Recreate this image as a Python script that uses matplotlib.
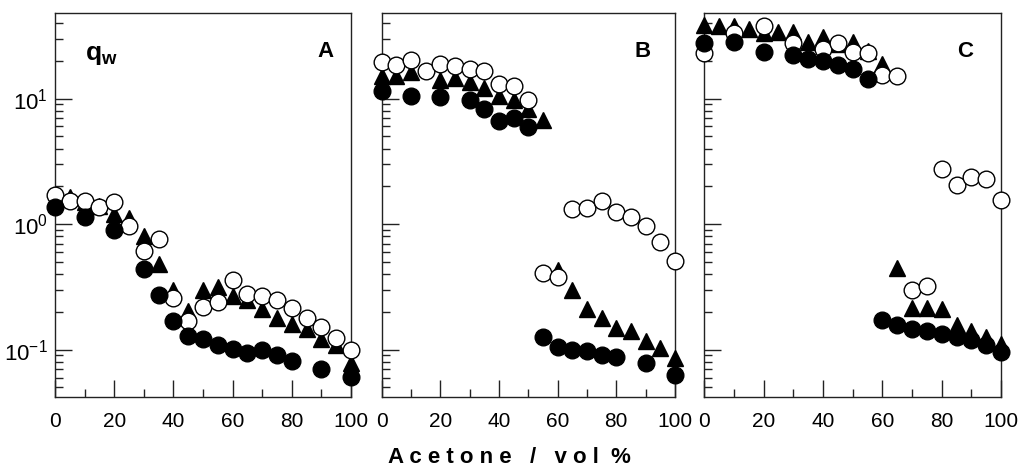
import numpy as np
import matplotlib
matplotlib.use('Agg')
import matplotlib.pyplot as plt
from matplotlib.ticker import LogLocator, MultipleLocator, NullFormatter

plt.rcParams['font.family'] = ['Liberation Sans', 'DejaVu Sans']
plt.rcParams['mathtext.fontset'] = 'custom'
plt.rcParams['mathtext.rm'] = 'Liberation Sans'
plt.rcParams['mathtext.bf'] = 'Liberation Sans:bold'

nan = np.nan
acetone = np.arange(0, 101, 5)

# panel A
a_open = [1.7, 1.52, 1.52, 1.37, 1.50, 0.96, 0.61, 0.76, 0.26, 0.17, 0.22,
          0.24, 0.36, 0.28, 0.27, 0.25, 0.215, 0.18, 0.151, 0.124, 0.10]
a_tri = [1.6, 1.63, 1.5, 1.4, 1.21, 1.12, 0.81, 0.48, 0.30, 0.205, 0.30,
         0.315, 0.27, 0.25, 0.21, 0.18, 0.16, 0.147, 0.122, 0.108, 0.079]
a_fill = [1.38, nan, 1.15, nan, 0.90, nan, 0.44, 0.275, 0.169, 0.129, 0.122,
          0.108, 0.101, 0.094, 0.10, 0.090, 0.081, nan, 0.070, nan, 0.061]

# panel B
b_open = [19.6, 18.4, 20.2, 16.5, 19.0, 18.2, 17.1, 16.6, 13.0, 12.5, 9.8,
          0.41, 0.38, 1.33, 1.35, 1.52, 1.25, 1.15, 0.96, 0.72, 0.51]
b_tri = [15.1, 15.0, 16.3, nan, 14.0, 14.7, 13.6, 12.2, 10.5, 9.8, 8.3,
         6.8, 0.43, 0.30, 0.21, 0.18, 0.149, 0.142, 0.118, 0.104, 0.086]
b_fill = [11.5, nan, 10.4, nan, 10.2, nan, 9.7, 8.3, 6.6, 7.0, 5.9,
          0.126, 0.106, 0.10, 0.097, 0.091, 0.087, nan, 0.078, nan, 0.063]

# panel C
c_open = [22.9, nan, 33.0, nan, 38.0, nan, 27.5, nan, 25.0, 27.5, 23.5,
          23.0, 15.3, 15.0, 0.30, 0.32, 2.77, 2.04, 2.37, 2.3, 1.55]
c_tri = [38.4, 38.0, 38.0, 35.5, 33.0, 34.0, 34.0, 28.3, 31.0, 27.0, 28.0,
         24.0, 18.7, 0.45, 0.215, 0.215, 0.21, 0.158, 0.142, 0.126, 0.11]
c_fill = [27.5, nan, 28.3, nan, 23.5, nan, 22.1, 20.8, 20.0, 18.4, 17.3,
          14.4, 0.171, 0.156, 0.147, 0.142, 0.134, 0.126, 0.12, 0.108, 0.095]

panels = [('A', a_open, a_tri, a_fill),
          ('B', b_open, b_tri, b_fill),
          ('C', c_open, c_tri, c_fill)]

fig = plt.figure(figsize=(10.2, 4.68), dpi=100)
lefts = [0.0539, 0.3742, 0.6905]
widths = [0.2902, 0.2875, 0.2909]
label_x = [0.915, 0.89, 0.879]

for i, (name, yo, yt, yf) in enumerate(panels):
    ax = fig.add_axes([lefts[i], 0.1517, widths[i], 0.8205])
    ax.set_yscale('log')
    ax.set_xlim(0, 100)
    ax.set_ylim(0.042, 48)

    ax.plot(acetone, yt, ls='none', marker='^', ms=12, mfc='black',
            mec='black', clip_on=False, zorder=3)
    ax.plot(acetone, yo, ls='none', marker='o', ms=12, mfc='white',
            mec='black', mew=1.0, clip_on=False, zorder=4)
    ax.plot(acetone, yf, ls='none', marker='o', ms=12, mfc='black',
            mec='black', clip_on=False, zorder=5)

    ax.xaxis.set_major_locator(MultipleLocator(20))
    ax.xaxis.set_minor_locator(MultipleLocator(10))
    ax.yaxis.set_major_locator(LogLocator(base=10, numticks=10))
    ax.yaxis.set_minor_locator(LogLocator(base=10, subs=np.arange(2, 10), numticks=10))
    ax.yaxis.set_minor_formatter(NullFormatter())
    ax.tick_params(which='both', direction='in', top=False, right=False,
                   labelsize=15, color='#222222')
    ax.tick_params(which='major', length=12, width=1)
    ax.tick_params(axis='x', which='major', pad=11)
    ax.tick_params(axis='y', which='major', pad=5, labelsize=16)
    ax.tick_params(which='minor', length=6, width=1)
    if i > 0:
        ax.tick_params(axis='y', labelleft=False)
    for sp in ax.spines.values():
        sp.set_linewidth(1.0)
        sp.set_color('#222222')

    ax.text(label_x[i], 0.90, name, transform=ax.transAxes, fontsize=16,
            fontweight='bold', ha='center', va='center')

    if i == 0:
        ax.text(0.10, 0.89, r'$\mathbf{q}_{\mathbf{w}}$', transform=ax.transAxes,
                fontsize=19, ha='left', va='center')

fig.text(0.499, 0.022, 'A c e t o n e   /   v o l  %', fontsize=16,
         fontweight='bold', ha='center', va='center')

fig.savefig('out.png', dpi=100)
